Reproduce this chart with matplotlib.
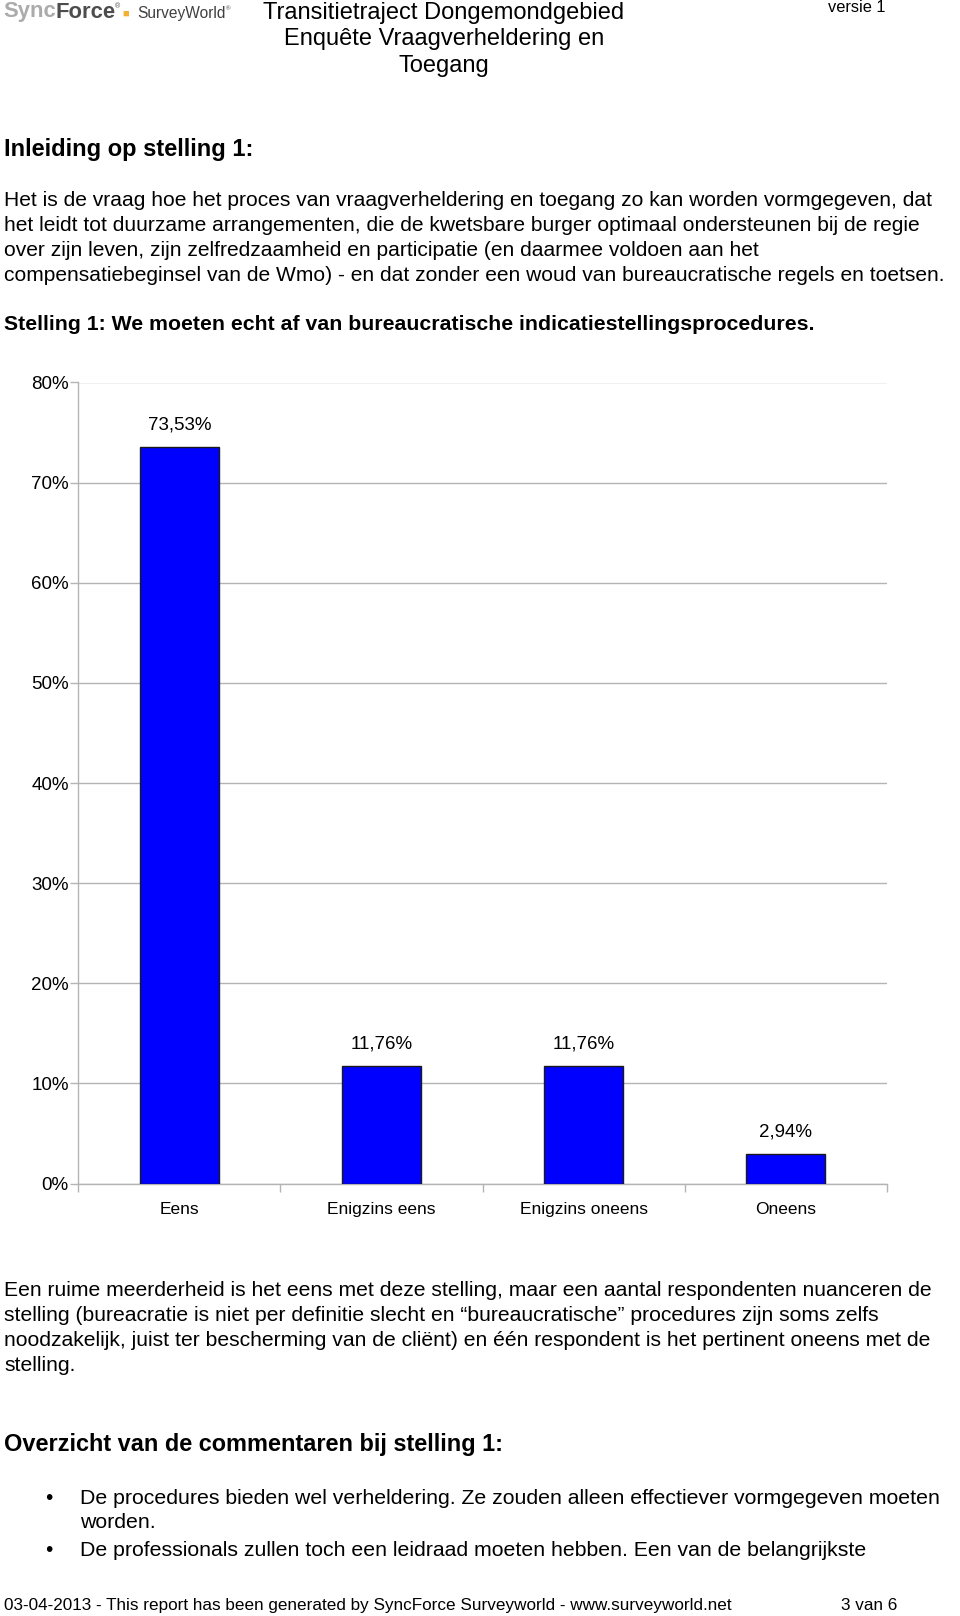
import matplotlib
matplotlib.use("Agg")
import matplotlib.pyplot as plt
from matplotlib.text import Annotation
from matplotlib.ticker import FixedLocator, NullFormatter

# ---------------- data ----------------
categories = ["Eens", "Enigzins eens", "Enigzins oneens", "Oneens"]
values = [73.53, 11.76, 11.76, 2.94]
yticks = [0, 10, 20, 30, 40, 50, 60, 70, 80]
ytick_labels = ["0%", "10%", "20%", "30%", "40%", "50%", "60%", "70%", "80%"]

header_lines = ["Transitietraject Dongemondgebied", "Enquête Vraagverheldering en", "Toegang"]
intro_title = "Inleiding op stelling 1:"
intro_lines = [
    "Het is de vraag hoe het proces van vraagverheldering en toegang zo kan worden vormgegeven, dat",
    "het leidt tot duurzame arrangementen, die de kwetsbare burger optimaal ondersteunen bij de regie",
    "over zijn leven, zijn zelfredzaamheid en participatie (en daarmee voldoen aan het",
    "compensatiebeginsel van de Wmo) - en dat zonder een woud van bureaucratische regels en toetsen.",
]
statement = "Stelling 1: We moeten echt af van bureaucratische indicatiestellingsprocedures."
after_lines = [
    "Een ruime meerderheid is het eens met deze stelling, maar een aantal respondenten nuanceren de",
    "stelling (bureacratie is niet per definitie slecht en \u201cbureaucratische\u201d procedures zijn soms zelfs",
    "noodzakelijk, juist ter bescherming van de cliënt) en één respondent is het pertinent oneens met de",
    "stelling.",
]
overview_title = "Overzicht van de commentaren bij stelling 1:"
bullet_lines = [
    ("\u2022", "De procedures bieden wel verheldering. Ze zouden alleen effectiever vormgegeven moeten"),
    ("", "worden."),
    ("\u2022", "De professionals zullen toch een leidraad moeten hebben. Een van de belangrijkste"),
]
footer_left = "03-04-2013 - This report has been generated by SyncForce Surveyworld - www.surveyworld.net"
footer_right = "3 van 6"

# ---------------- page ----------------
W, H = 960, 1616
fig = plt.figure(figsize=(W / 100, H / 100), dpi=100)
fig.patch.set_facecolor("white")
FONT = ["Liberation Sans", "DejaVu Sans"]


def T(x, y, s, **kw):
    kw.setdefault("family", FONT)
    kw.setdefault("va", "center")
    kw.setdefault("color", "black")
    return fig.text(x / W, 1 - y / H, s, **kw)


def after(prev, s, dx=0, dy=0, **kw):
    kw.setdefault("family", FONT)
    kw.setdefault("color", "black")
    a = Annotation(s, xy=(1, 0), xycoords=prev, xytext=(dx, dy),
                   textcoords="offset points", ha="left", va="bottom", **kw)
    fig.add_artist(a)
    return a


# logo
sync = T(3, 12, "Sync", fontsize=15.8, fontweight="bold", color="#ababab")
force = after(sync, "Force", dx=-0.5, fontsize=15.8, fontweight="bold", color="#4d4d4d")
reg1 = after(force, "\u00ae", dx=0, dy=9, fontsize=5, color="#4d4d4d")
icon = after(force, "\u25A0", dx=5.5, dy=3, fontsize=8, color="#f2b134")
sw = after(force, "SurveyWorld", dx=16, dy=1, fontsize=11.2, color="#404040")
after(sw, "\u00ae", dx=0, dy=7, fontsize=4.5, color="#404040")

# header
for i, line in enumerate(header_lines):
    T(444, 12.5 + i * 26.8, line, fontsize=17, ha="center")
T(885, 8, "versie 1", fontsize=11.8, ha="right")

# intro
T(4, 149.5, intro_title, fontsize=17, fontweight="bold")
for i, line in enumerate(intro_lines):
    T(4, 201 + i * 24.7, line, fontsize=15.1)
T(4, 325, statement, fontsize=15.3, fontweight="bold")

# after-chart text
for i, line in enumerate(after_lines):
    T(4, 1291 + i * 24.7, line, fontsize=15.2)
T(4, 1444.5, overview_title, fontsize=16.9, fontweight="bold")
for i, (b, line) in enumerate(bullet_lines):
    yy = [1499, 1523, 1550][i]
    if b:
        T(45, yy, b, fontsize=15)
    T(80, yy, line, fontsize=15.35)

T(4, 1605.5, footer_left, fontsize=12.3)
T(897, 1605.5, footer_right, fontsize=12.3, ha="right")

# ---------------- chart ----------------
ax_left, ax_right = 78.4, 886.7
ax_top, ax_bottom = 382.5, 1183.6
ax = fig.add_axes([ax_left / W, 1 - ax_bottom / H,
                   (ax_right - ax_left) / W, (ax_bottom - ax_top) / H])

x = list(range(len(categories)))
ax.bar(x, values, width=0.39, color="#0000FF", edgecolor="#1a1a1a", linewidth=1.0, zorder=3)
ax.set_xlim(-0.5, len(categories) - 0.5)
ax.set_ylim(0, 80)

grid_c = "#b4b4b4"
ax.yaxis.set_major_locator(FixedLocator(yticks))
ax.set_yticklabels(ytick_labels, family=FONT, fontsize=13.5)
ax.yaxis.grid(True, color=grid_c, linewidth=1.0, zorder=0)
ax.tick_params(axis="y", length=6, color=grid_c, width=1.0, pad=1)

ax.set_xticks(x)
ax.set_xticklabels(categories, family=FONT, fontsize=12.5)
ax.tick_params(axis="x", which="major", length=0, pad=13)
ax.xaxis.set_minor_locator(FixedLocator([i - 0.5 for i in range(len(categories) + 1)]))
ax.xaxis.set_minor_formatter(NullFormatter())
ax.tick_params(axis="x", which="minor", length=6, color=grid_c, width=1.0)

for s in ["top", "right"]:
    ax.spines[s].set_visible(False)
for s in ["left", "bottom"]:
    ax.spines[s].set_color(grid_c)
    ax.spines[s].set_linewidth(1.0)

for xi, v in zip(x, values):
    lbl = ("%.2f" % v).replace(".", ",") + "%"
    ax.annotate(lbl, (xi, v), xytext=(0, 16), textcoords="offset points",
                ha="center", va="center", family=FONT, fontsize=13.5)

fig.savefig("out.png", dpi=100, facecolor="white")
